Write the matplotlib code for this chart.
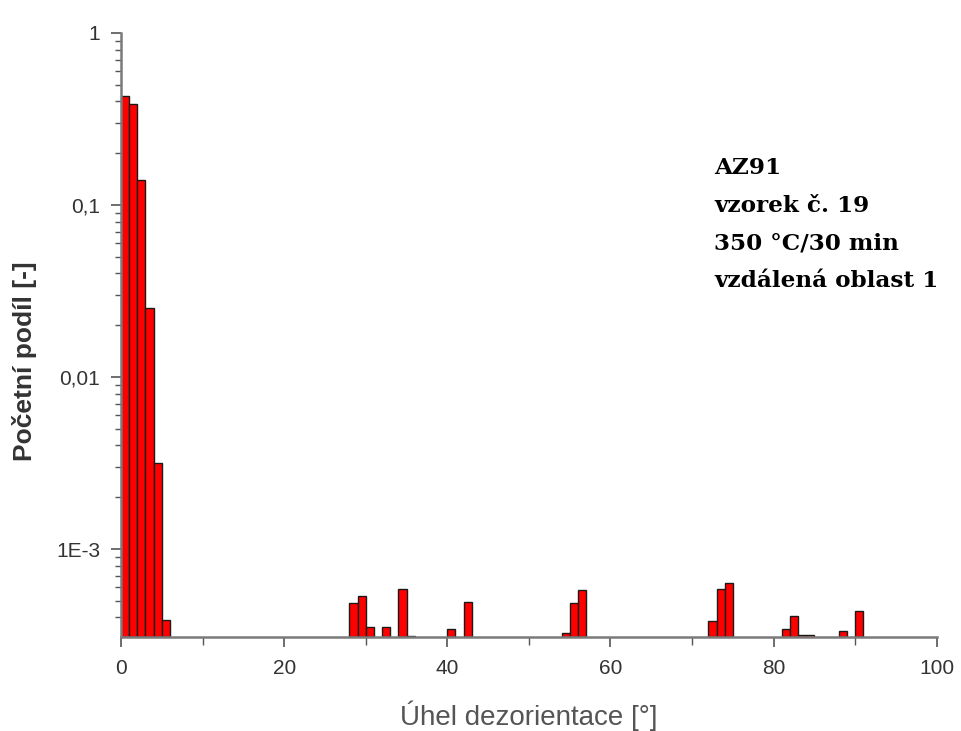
import numpy as np
import matplotlib
matplotlib.use("Agg")
import matplotlib.pyplot as plt
from matplotlib.ticker import LogLocator, NullFormatter, MultipleLocator

# misorientation bins (left edge, degrees) and number fraction
bin_left = [0, 1, 2, 3, 4, 5,
            28, 29, 30, 32, 34, 35,
            40, 42,
            54, 55, 56,
            72, 73, 74,
            81, 82, 83, 84,
            88, 90]
fraction = [0.428, 0.385, 0.140, 0.0251, 0.00316, 3.85e-4,
            4.83e-4, 5.33e-4, 3.51e-4, 3.51e-4, 5.83e-4, 3.12e-4,
            3.43e-4, 4.90e-4,
            3.26e-4, 4.88e-4, 5.78e-4,
            3.81e-4, 5.83e-4, 6.32e-4,
            3.41e-4, 4.07e-4, 3.16e-4, 3.16e-4,
            3.35e-4, 4.38e-4]

ytick_vals = [1e-3, 1e-2, 1e-1, 1]
ytick_labels = ["1E-3", "0,01", "0,1", "1"]
xtick_vals = [0, 20, 40, 60, 80, 100]

info_lines = ["AZ91", "vzorek č. 19", "350 °C/30 min", "vzdálená oblast 1"]

plt.rcParams['font.family'] = ['Liberation Sans', 'DejaVu Sans']

fig = plt.figure(figsize=(9.62, 7.31), dpi=100)
ax = fig.add_axes([0.1258, 0.1286, 0.848, 0.8263])

ybot = 3.08e-4
heights = np.array(fraction) - ybot
ax.bar(bin_left, heights, width=1.0, bottom=ybot, align='edge',
       color='#ff0000', edgecolor='#1a1a1a', linewidth=1.0)

ax.set_yscale('log')
ax.set_ylim(ybot, 1)
ax.set_xlim(0, 100)

ax.set_yticks(ytick_vals)
ax.set_yticklabels(ytick_labels)
ax.yaxis.set_minor_locator(LogLocator(base=10, subs=np.arange(2, 10)))
ax.yaxis.set_minor_formatter(NullFormatter())
ax.set_xticks(xtick_vals)
ax.xaxis.set_minor_locator(MultipleLocator(10))

for s in ['top', 'right']:
    ax.spines[s].set_visible(False)
for s in ['left', 'bottom']:
    ax.spines[s].set_color('#7a7a7a')
    ax.spines[s].set_linewidth(1.8)

ax.tick_params(axis='both', which='major', direction='out', length=7,
               width=1.2, color='#555555', labelsize=15, labelcolor='#333333')
ax.tick_params(axis='y', which='major', pad=8)
ax.tick_params(axis='x', which='major', pad=9)
ax.tick_params(axis='both', which='minor', direction='out', length=4,
               width=1.0, color='#555555')
ax.tick_params(axis='x', which='minor', length=6)

ax.set_xlabel("Úhel dezorientace [°]", fontsize=20, color='#555555')
ax.xaxis.set_label_coords(0.5, -0.105)
ax.set_ylabel("Početní podíl [-]", fontsize=19, fontweight='bold',
              color='#333333')
ax.yaxis.set_label_coords(-0.103, 0.457)

# sample description, one line per text
for i, line in enumerate(info_lines):
    fig.text(714 / 962, 1 - (174 + i * 37.7) / 731, line, ha='left', va='baseline',
             fontsize=16.7, fontweight='bold', family=['DejaVu Serif'],
             color='#000000')

fig.savefig("out.png", dpi=100)
